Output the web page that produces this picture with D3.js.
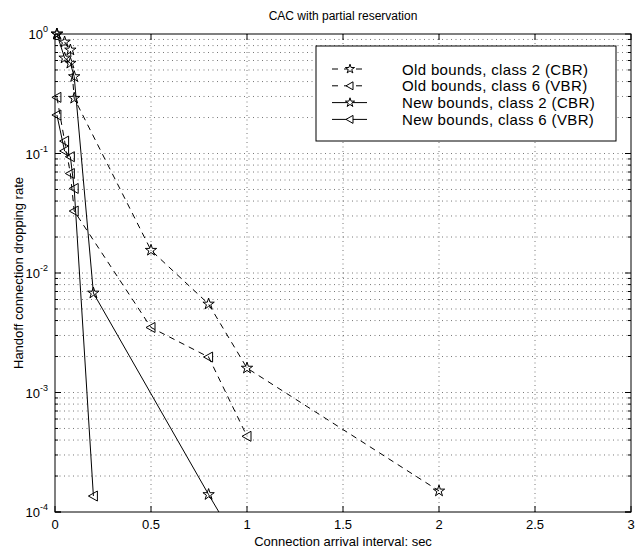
<!DOCTYPE html>
<html>
<head>
<meta charset="utf-8">
<script src="https://cdn.jsdelivr.net/npm/d3@7"></script>
<style>
    body { margin: 0; background: #fff; }
    text { font-family: "Liberation Sans", Arial, sans-serif; fill: #000; }
</style>
</head>
<body>
<div id="chart"></div>
<script>

/* values */
var oldCbrX = [0.01, 0.05, 0.08, 0.1, 0.5, 0.8, 1, 2];
var oldCbrY = [1.0, 0.857, 0.735, 0.29, 0.0155, 0.0055, 0.0016, 0.00015];

var oldVbrX = [0.01, 0.05, 0.08, 0.1, 0.5, 0.8, 1];
var oldVbrY = [0.295, 0.127, 0.068, 0.033, 0.0035, 0.00198, 0.00043];

var newCbrX = [0.01, 0.05, 0.08, 0.1, 0.2, 0.8, 1];
var newCbrY = [1.0, 0.63, 0.57, 0.44, 0.0068, 0.00014, 0.00004];

var newVbrX = [0.01, 0.05, 0.08, 0.1, 0.2];
var newVbrY = [0.21, 0.105, 0.094, 0.051, 0.000136];

var xTicks = [0, 0.5, 1, 1.5, 2, 2.5, 3];
var xTickLabels = ["0", "0.5", "1", "1.5", "2", "2.5", "3"];
var yExponents = [0, -1, -2, -3, -4];

var legendLabels = [
    "Old bounds, class 2 (CBR)",
    "Old bounds, class 6 (VBR)",
    "New bounds, class 2 (CBR)",
    "New bounds, class 6 (VBR)"
];

function zip(xs, ys) {
    return xs.map(function (x, i) { return {x: x, y: ys[i]}; });
}

var series = [
    {name: legendLabels[0], values: zip(oldCbrX, oldCbrY), marker: "star", dashed: true},
    {name: legendLabels[1], values: zip(oldVbrX, oldVbrY), marker: "tri", dashed: true},
    {name: legendLabels[2], values: zip(newCbrX, newCbrY), marker: "star", dashed: false},
    {name: legendLabels[3], values: zip(newVbrX, newVbrY), marker: "tri", dashed: false}
];

render();

function render() {

    var w = 637, h = 549;
    var margin = {top: 34, right: 6, bottom: 37, left: 55},
        width = w - margin.left - margin.right,
        height = h - margin.top - margin.bottom;

    var svg = d3.select("#chart").append("svg")
        .attr("width", w)
        .attr("height", h);

    var x = d3.scaleLinear().domain([0, 3]).range([0, width]);
    var y = d3.scaleLog().domain([1e-4, 1]).range([height, 0]);

    var g = svg.append("g")
        .attr("transform", "translate(" + margin.left + "," + margin.top + ")");

    // minor + major log positions
    var yAll = [];
    yExponents.forEach(function (e) {
        if (e === -4) { yAll.push(1e-4); return; }
        for (var k = 1; k <= 9; k++) {
            yAll.push(k * Math.pow(10, e - 1));
        }
    });
    yAll.push(1);
    yAll = yAll.filter(function (v) { return v >= 1e-4 && v <= 1; });

    /* grid */
    g.append("g").selectAll("line")
        .data(yAll.filter(function (v) { return v > 1e-4 && v < 1; }))
        .enter().append("line")
        .attr("x1", 0).attr("x2", width)
        .attr("y1", function (d) { return y(d); })
        .attr("y2", function (d) { return y(d); })
        .attr("stroke", "#555")
        .attr("stroke-width", 0.8)
        .attr("stroke-dasharray", "1,3.5");

    g.append("g").selectAll("line")
        .data(xTicks.slice(1, -1))
        .enter().append("line")
        .attr("y1", 0).attr("y2", height)
        .attr("x1", function (d) { return x(d); })
        .attr("x2", function (d) { return x(d); })
        .attr("stroke", "#555")
        .attr("stroke-width", 0.8)
        .attr("stroke-dasharray", "1,3.5");

    /* frame */
    g.append("rect")
        .attr("width", width).attr("height", height)
        .attr("fill", "none").attr("stroke", "#000").attr("stroke-width", 1);

    /* ticks, pointing inward on all sides */
    var ticks = g.append("g").attr("stroke", "#000").attr("stroke-width", 1);
    xTicks.forEach(function (t) {
        ticks.append("line").attr("x1", x(t)).attr("x2", x(t)).attr("y1", height).attr("y2", height - 6);
        ticks.append("line").attr("x1", x(t)).attr("x2", x(t)).attr("y1", 0).attr("y2", 6);
    });
    yAll.forEach(function (v) {
        var major = Math.abs(Math.log10(v) - Math.round(Math.log10(v))) < 1e-9;
        var len = major ? 6 : 3;
        ticks.append("line").attr("x1", 0).attr("x2", len).attr("y1", y(v)).attr("y2", y(v));
        ticks.append("line").attr("x1", width).attr("x2", width - len).attr("y1", y(v)).attr("y2", y(v));
    });

    /* tick labels */
    g.append("g").selectAll("text")
        .data(xTicks)
        .enter().append("text")
        .attr("x", function (d) { return x(d); })
        .attr("y", height + 17)
        .attr("text-anchor", "middle")
        .style("font-size", "13px")
        .text(function (d, i) { return xTickLabels[i]; });

    var yl = g.append("g").selectAll("text")
        .data(yExponents)
        .enter().append("text")
        .attr("x", -7)
        .attr("y", function (d) { return y(Math.pow(10, d)) + 5; })
        .attr("text-anchor", "end")
        .style("font-size", "13px");
    yl.append("tspan").text("10");
    yl.append("tspan")
        .attr("dy", -7)
        .style("font-size", "9px")
        .text(function (d) { return d === 0 ? "0" : "-" + (-d); });

    /* lines */
    svg.append("clipPath").attr("id", "plotClip")
        .append("rect").attr("width", width).attr("height", height);

    var line = d3.line()
        .x(function (d) { return x(d.x); })
        .y(function (d) { return y(d.y); });

    var plot = g.append("g").attr("clip-path", "url(#plotClip)");

    plot.selectAll("path.series")
        .data(series)
        .enter().append("path")
        .attr("class", "series")
        .attr("d", function (d) { return line(d.values); })
        .attr("fill", "none")
        .attr("stroke", "#000")
        .attr("stroke-width", 1)
        .attr("stroke-dasharray", function (d) { return d.dashed ? "6,5" : null; });

    var star = d3.symbol().type(d3.symbolStar).size(40);
    var smallStar = d3.symbol().type(d3.symbolStar).size(26);
    function markerPath(kind, small) {
        if (kind === "star") return small ? smallStar() : star();
        return small ? "M-4,0L3,-4L3,4Z" : "M-5,0L4,-5L4,5Z";
    }

    series.forEach(function (s) {
        g.append("g").selectAll("path")
            .data(s.values.filter(function (d) { return d.y >= 1e-4; }))
            .enter().append("path")
            .attr("transform", function (d) { return "translate(" + x(d.x) + "," + y(d.y) + ")"; })
            .attr("d", markerPath(s.marker))
            .attr("fill", "none")
            .attr("stroke", "#000")
            .attr("stroke-width", 1);
    });

    /* legend */
    var lg = svg.append("g").attr("transform", "translate(316,46)");
    lg.append("rect")
        .attr("width", 300).attr("height", 95)
        .attr("fill", "#fff").attr("stroke", "#000").attr("stroke-width", 1);

    var item = lg.selectAll("g.item")
        .data(series)
        .enter().append("g")
        .attr("class", "item")
        .attr("transform", function (d, i) { return "translate(0," + (23 + i * 16.8) + ")"; });

    item.append("line")
        .attr("x1", 16).attr("x2", 51)
        .attr("y1", 0).attr("y2", 0)
        .attr("stroke", "#000").attr("stroke-width", 1)
        .attr("stroke-dasharray", function (d) { return d.dashed ? "6,6" : null; });
    item.append("path")
        .attr("transform", "translate(34,0)")
        .attr("d", function (d) { return markerPath(d.marker, true); })
        .attr("fill", "#fff").attr("stroke", "#000");
    item.append("text")
        .attr("x", 86).attr("y", 5.5)
        .style("font-size", "15px")
        .style("letter-spacing", "0.35px")
        .text(function (d) { return d.name; });

    /* titles */
    svg.append("text")
        .attr("x", margin.left + width / 2).attr("y", 20)
        .attr("text-anchor", "middle")
        .style("font-size", "12px")
        .text("CAC with partial reservation");

    svg.append("text")
        .attr("x", margin.left + width / 2).attr("y", 546)
        .attr("text-anchor", "middle")
        .style("font-size", "13px")
        .text("Connection arrival interval: sec");

    svg.append("text")
        .attr("transform", "translate(23," + (margin.top + height / 2) + ") rotate(-90)")
        .attr("text-anchor", "middle")
        .style("font-size", "13px")
        .text("Handoff connection dropping rate");
}
</script>
</body>
</html>
